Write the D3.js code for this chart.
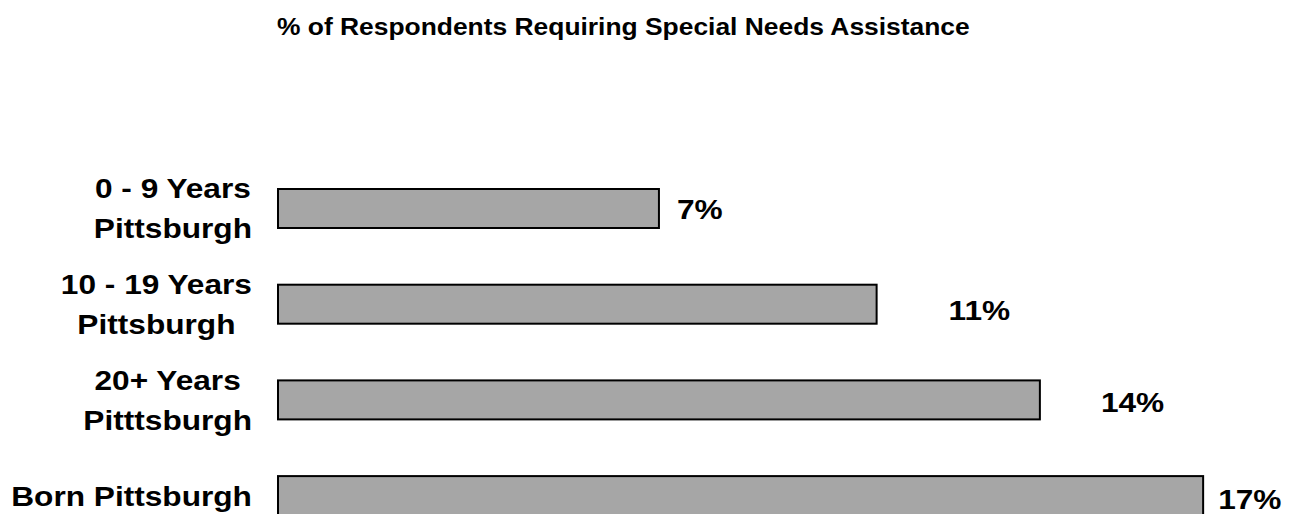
<!DOCTYPE html>
<html>
<head>
<meta charset="utf-8">
<script src="https://cdn.jsdelivr.net/npm/d3@7"></script>
<style>
  html, body { margin: 0; padding: 0; background: #ffffff; }
  svg { display: block; font-family: Arial, "Liberation Sans", Helvetica, sans-serif; }
</style>
</head>
<body>
<svg id="chart" width="1298" height="514"></svg>
<script>
// Chart data
const chartTitle = "% of Respondents Requiring Special Needs Assistance";
const categories = ["0 - 9 Years Pittsburgh", "10 - 19 Years Pittsburgh", "20+ Years Pitttsburgh", "Born Pittsburgh"];
const categoryLines = [["0 - 9 Years", "Pittsburgh"], ["10 - 19 Years", "Pittsburgh"], ["20+ Years", "Pitttsburgh"], ["Born Pittsburgh"]];
const values = [7, 11, 14, 17];
const valueLabels = ["7%", "11%", "14%", "17%"];

// Layout
const W = 1298, H = 514;
const plotLeft = 278;
const labelRight = 252;
const lineHeight = 40;
const labelFont = 28, labelStretch = 1.13;
// per-label placement of the value text after each bar end
const valueGap = [18, 72, 61, 15];
const valueDrop = [10.5, 15.5, 12.5, 13.5];

const svg = d3.select("#chart");

const x = d3.scaleLinear().domain([0, 20]).range([plotLeft, plotLeft + 54.42 * 20]);
const step = 95.7, bw = 39;
const pin = 1 - bw / step;
const y = d3.scaleBand()
  .domain(categories)
  .range([189 - pin * step / 2, 189 - pin * step / 2 + step * categories.length])
  .paddingInner(pin)
  .paddingOuter(pin / 2);

// Title, fitted to its line width
const title = svg.append("text")
  .attr("x", 0).attr("y", 0)
  .attr("font-size", 24).attr("font-weight", "bold").attr("fill", "#000")
  .text(chartTitle);
const tw = title.node().getComputedTextLength();
const titleScale = 693 / tw;
title.attr("transform", `translate(277,35) scale(${titleScale},1)`);

// Bars
svg.append("g").selectAll("rect")
  .data(values)
  .join("rect")
  .attr("x", x(0))
  .attr("y", (d, i) => y(categories[i]))
  .attr("width", d => x(d) - x(0))
  .attr("height", y.bandwidth())
  .attr("fill", "#a6a6a6")
  .attr("stroke", "#000")
  .attr("stroke-width", 2);

// Category labels: centred lines, block aligned to the right of the label column
const labelG = svg.append("g");
categoryLines.forEach((lines, i) => {
  const cy = y(categories[i]) + y.bandwidth() / 2;
  const g = labelG.append("g");
  const texts = lines.map((t, j) => g.append("text")
    .attr("font-size", labelFont).attr("font-weight", "bold").attr("fill", "#000")
    .attr("text-anchor", "middle")
    .attr("x", 0)
    .attr("y", cy + (j - (lines.length - 1) / 2) * lineHeight + 10)
    .text(t));
  const maxW = d3.max(texts, t => t.node().getComputedTextLength()) * labelStretch;
  g.attr("transform", `translate(${labelRight - maxW / 2},0) scale(${labelStretch},1)`);
});

// Value labels
const valG = svg.append("g");
values.forEach((v, i) => {
  const cy = y(categories[i]) + y.bandwidth() / 2;
  valG.append("text")
    .attr("font-size", labelFont).attr("font-weight", "bold").attr("fill", "#000")
    .attr("transform", `translate(${x(v) + valueGap[i]},${cy + valueDrop[i]}) scale(${labelStretch},1)`)
    .text(valueLabels[i]);
});
</script>
</body>
</html>
